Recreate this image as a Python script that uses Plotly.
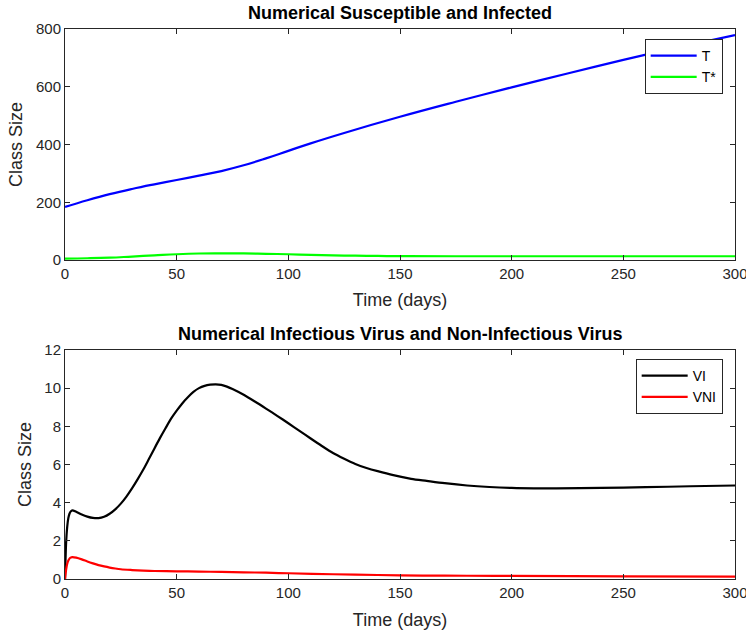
import plotly.graph_objects as go

# ---------------- data ----------------
t_T = [0, 10, 20, 30, 40, 50, 60, 70, 80, 90, 100, 110, 125, 150, 175, 200, 225, 250, 275, 300]
T_vals = [184, 207, 228, 246, 262, 277, 292, 308, 328, 352, 378, 404, 440, 496, 548, 598, 646, 693, 737, 779]

t_Ts = [0, 10, 20, 30, 40, 50, 60, 70, 80, 90, 100, 110, 120, 130, 140, 150, 175, 200, 250, 300]
Ts_vals = [5, 6, 8, 12, 16, 20, 22.5, 23, 23, 21.5, 20, 17.5, 16, 15, 14, 13.5, 13, 13, 13, 13]

t_VI = [0, 0.5, 1, 1.5, 2, 2.5, 3.3, 5, 7.5, 10, 12.5, 15, 17.5, 20, 22.5, 25, 27.5,
        30, 32.5, 35, 37.5, 40, 42.5, 45, 47.5, 50, 52.5, 55, 57.5, 60, 62.5, 65,
        67.5, 70, 72.5, 75, 80, 85, 90, 95, 100, 105, 110, 115, 120, 125, 130, 135,
        140, 147, 155, 162, 170, 180, 190, 200, 210, 220, 240, 260, 280, 300]
VI_vals = [0, 1.9, 2.75, 3.2, 3.42, 3.53, 3.6, 3.52, 3.38, 3.27, 3.2, 3.19, 3.26,
           3.42, 3.65, 3.95, 4.32, 4.75, 5.22, 5.72, 6.27, 6.83, 7.38, 7.9, 8.4,
           8.82, 9.2, 9.52, 9.8, 10.0, 10.12, 10.18, 10.2, 10.17, 10.08, 9.95,
           9.65, 9.3, 8.93, 8.55, 8.16, 7.76, 7.36, 6.97, 6.6, 6.3, 6.03, 5.82, 5.65,
           5.44, 5.25, 5.14, 5.02, 4.9, 4.82, 4.77, 4.75, 4.75, 4.77, 4.81, 4.86, 4.9]

t_VNI = [0, 0.5, 1, 1.5, 2, 2.5, 3.3, 5, 7.5, 10, 12.5, 15, 17.5, 20, 22.5, 25, 30,
         35, 40, 50, 60, 70, 80, 90, 100, 120, 140, 160, 180, 200, 250, 300]
VNI_vals = [0, 0.5, 0.8, 0.97, 1.07, 1.12, 1.15, 1.12, 1.03, 0.92, 0.82, 0.73, 0.66,
            0.6, 0.55, 0.51, 0.47, 0.44, 0.42, 0.4, 0.39, 0.37, 0.35, 0.33, 0.3, 0.25,
            0.21, 0.18, 0.17, 0.16, 0.14, 0.12]

x_ticks = [0, 50, 100, 150, 200, 250, 300]
y1_ticks = [0, 200, 400, 600, 800]
y2_ticks = [0, 2, 4, 6, 8, 10, 12]

titles = ["Numerical Susceptible and Infected",
          "Numerical Infectious Virus and Non-Infectious Virus"]

# ---------------- figure ----------------
FONT = "Liberation Sans, Arial, Helvetica, sans-serif"
AX = "#262626"

fig = go.Figure()
fig.add_trace(go.Scatter(x=t_T, y=T_vals, name="T", mode="lines",
                         line=dict(color="#0000ff", width=2.2, shape="spline", smoothing=1.2),
                         xaxis="x", yaxis="y", legend="legend"))
fig.add_trace(go.Scatter(x=t_Ts, y=Ts_vals, name="T*", mode="lines",
                         line=dict(color="#00ff00", width=2.2, shape="spline", smoothing=1.2),
                         xaxis="x", yaxis="y", legend="legend"))
fig.add_trace(go.Scatter(x=t_VI, y=VI_vals, name="VI", mode="lines",
                         line=dict(color="#000000", width=2.2, shape="spline", smoothing=0.8),
                         xaxis="x2", yaxis="y2", legend="legend2"))
fig.add_trace(go.Scatter(x=t_VNI, y=VNI_vals, name="VNI", mode="lines",
                         line=dict(color="#ff0000", width=2.2, shape="spline", smoothing=0.8),
                         xaxis="x2", yaxis="y2", legend="legend2"))

axis_common = dict(showline=True, linecolor=AX, linewidth=1, mirror="ticks",
                   ticks="inside", ticklen=5, tickcolor=AX, tickwidth=1,
                   showgrid=False, zeroline=False, ticklabeloverflow="allow",
                   automargin=False,
                   tickfont=dict(family=FONT, size=15, color=AX),
                   title_font=dict(family=FONT, size=18, color=AX))

legend_common = dict(xanchor="right", yanchor="top", bgcolor="white",
                     bordercolor=AX, borderwidth=1,
                     font=dict(family=FONT, size=14, color="#000"),
                     tracegroupgap=0, itemwidth=46)

fig.update_layout(
    width=746, height=634,
    margin=dict(l=65, r=11, t=29, b=55, autoexpand=False),
    paper_bgcolor="white", plot_bgcolor="white",
    font=dict(family=FONT, color=AX),
    xaxis=dict(domain=[0, 1], anchor="y", range=[0, 300], tickvals=x_ticks,
               title=dict(text="Time (days)", standoff=12), **axis_common),
    yaxis=dict(domain=[0.58, 1], anchor="x", range=[0, 800], tickvals=y1_ticks,
               title=dict(text="Class Size", standoff=8), **axis_common),
    xaxis2=dict(domain=[0, 1], anchor="y2", range=[0, 300], tickvals=x_ticks,
                title=dict(text="Time (days)", standoff=13), **axis_common),
    yaxis2=dict(domain=[0, 0.4164], anchor="x2", range=[0, 12], tickvals=y2_ticks,
                title=dict(text="Class Size", standoff=8), **axis_common),
    legend=dict(x=0.9816, y=0.9818, **legend_common),
    legend2=dict(x=0.9816, y=0.4, **legend_common),
    showlegend=True,
    annotations=[
        dict(text="<b>" + titles[0] + "</b>", x=0.5, y=1.0, xref="paper", yref="paper",
             xanchor="center", yanchor="bottom", yshift=4, showarrow=False,
             font=dict(family=FONT, size=18, color="#000")),
        dict(text="<b>" + titles[1] + "</b>", x=0.5, y=0.4164, xref="paper", yref="paper",
             xanchor="center", yanchor="bottom", yshift=4, showarrow=False,
             font=dict(family=FONT, size=18, color="#000")),
    ],
)

fig.write_html("out.html")
